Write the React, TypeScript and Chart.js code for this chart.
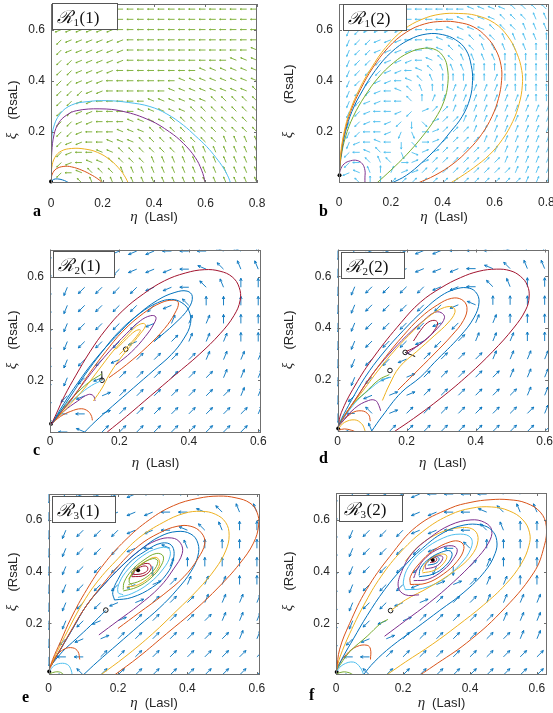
import React, { useEffect, useRef } from "react";
import { Chart, registerables } from "chart.js";
Chart.register(...registerables);

// MATLAB default palette
const BLUE = "#0072BD";
const ORANGE = "#D95319";
const YELLOW = "#EDB120";
const PURPLE = "#7E2F8E";
const GREEN = "#77AC30";
const CYAN = "#4DBEEE";
const DRED = "#A2142F";
const BLACK = "#000000";

// tick values
const xTicksWide = [0, 0.2, 0.4, 0.6, 0.8];
const xTicksNarrow = [0, 0.2, 0.4, 0.6];
const yTickVals = [0.2, 0.4, 0.6];

// quiver grids
const gridXWide = [0, 0.04, 0.08, 0.12, 0.16, 0.2, 0.24, 0.28, 0.32, 0.36, 0.4, 0.44, 0.48, 0.52, 0.56, 0.6, 0.64, 0.68, 0.72, 0.76, 0.8];
const gridYWide = [0.68, 0.64, 0.6, 0.56, 0.52, 0.48, 0.44, 0.4, 0.36, 0.32, 0.28, 0.24, 0.2, 0.16, 0.12, 0.08, 0.04, 0];
const gridXNarrow = [0, 0.05, 0.1, 0.15, 0.2, 0.25, 0.3, 0.35, 0.4, 0.45, 0.5, 0.55, 0.6];
const gridYNarrow = [0.7, 0.63, 0.56, 0.49, 0.42, 0.35, 0.28, 0.21, 0.14, 0.07, 0];

// quiver directions (hex digit k -> k*22.5 degrees, 0 = right, 4 = up)
const aQuiver = [
  "999998888888888888888",
  "999999888888888888888",
  "A99999988888888888888",
  "AA9999998888888888888",
  "AA9999998888888888887",
  "AAA999998888888888777",
  "AAA999988888888777777",
  "BAA999888888877777777",
  "BAAA99888888777777776",
  "BAA998888877777766666",
  "BAA998888777776666666",
  "BAA998887777666666666",
  "BAA988877766666666666",
  "BA9988777666666665555",
  "BA9887766666655555555",
  "BA9877666655555555555",
  "BA8766655555555555555",
  "CB8655555555555555555",
];
const bQuiver = [
  "BAA999888888877776666",
  "BAA999888888777766655",
  "BBA999988887777666555",
  "BBAA99988877766655554",
  "BBAA99998776665555544",
  "CBAAA9998766555544444",
  "CBAAA9987655544444444",
  "CBAA99876544444344444",
  "CBAA98765443333334444",
  "CBA998864333333333344",
  "CBA9889A1223333333333",
  "CBA989ACE122333333333",
  "CBA889BD0122233333333",
  "CB9878CE0122223333333",
  "CA8768DF1122222333333",
  "CA8656011222222233333",
  "C97543112222222223333",
  "C86442222222222222333",
];
const cQuiver = [
  "CA99999888776",
  "CBAAA99987655",
  "CBAAAA9986544",
  "CBAAAAA964444",
  "CBAAAA9333444",
  "CBAAA92233344",
  "CBAA922223333",
  "CBA9222222333",
  "CA91222222233",
  "C881222222223",
  "C872222222222",
];
const dQuiver = [
  "CA99999888766",
  "CBAA999987655",
  "CBAAAA9986544",
  "CBAAAAA974444",
  "CBAAAA9A33444",
  "CBAAA9A233344",
  "CBAA922223333",
  "CBA9122222333",
  "CA91122222233",
  "C861222222223",
  "C852222222222",
];
const eQuiver = [
  "CA99998888776",
  "CBAA999887655",
  "CBAAA99876544",
  "CBAAA98754444",
  "CBAAABC344444",
  "CBAAA91233344",
  "CBAA912223333",
  "CBA9122222333",
  "CA91222222233",
  "C882222222222",
  "C862222222222",
];
const fQuiver = [
  "CA99998888776",
  "CBAA999887655",
  "CBAAA99886544",
  "CBAAAA9864444",
  "CBAAAABC23444",
  "CBAAA91123344",
  "CBAA912223333",
  "CBA9122222333",
  "CA91222222233",
  "C882222222222",
  "C862222222222",
];

type Pt = [number, number];

// ---------- panel a : R1(1) ----------
const aBlue: Pt[] = [[0, 0.005], [0.01, 0.014], [0.025, 0.016], [0.045, 0.012], [0.06, 0.006], [0.07, 0]];
const aOrange: Pt[] = [[0, 0.01], [0.005, 0.035], [0.02, 0.055], [0.05, 0.065], [0.08, 0.063], [0.12, 0.05], [0.16, 0.03], [0.19, 0.01], [0.2, 0]];
const aYellow: Pt[] = [[0, 0.01], [0.003, 0.06], [0.015, 0.1], [0.04, 0.125], [0.08, 0.135], [0.13, 0.133], [0.18, 0.12], [0.23, 0.09], [0.27, 0.05], [0.29, 0.02], [0.3, 0]];
const aPurple: Pt[] = [[0, 0.02], [0.003, 0.12], [0.012, 0.19], [0.03, 0.235], [0.06, 0.265], [0.1, 0.283], [0.19, 0.29], [0.28, 0.28], [0.384, 0.245], [0.46, 0.2], [0.514, 0.155], [0.56, 0.1], [0.585, 0.05], [0.6, 0]];
const aCyan: Pt[] = [[0, 0.02], [0.002, 0.14], [0.008, 0.21], [0.035, 0.27], [0.08, 0.305], [0.14, 0.318], [0.216, 0.322], [0.3, 0.315], [0.384, 0.299], [0.45, 0.27], [0.514, 0.226], [0.56, 0.185], [0.605, 0.142], [0.64, 0.1], [0.67, 0.058], [0.69, 0.02], [0.697, 0]];
const aDots: Pt[] = [[0, 0.006]];

// ---------- panel b : R1(2) ----------
const bPurple: Pt[] = [[0, 0.02], [0.005, 0.05], [0.02, 0.075], [0.045, 0.087], [0.07, 0.088], [0.09, 0.075], [0.1, 0.05], [0.1, 0.02], [0.1, 0]];
const bGreen: Pt[] = [[0, 0.02], [0.008, 0.1], [0.025, 0.18], [0.055, 0.26], [0.1, 0.34], [0.15, 0.41], [0.21, 0.47], [0.27, 0.51], [0.33, 0.527], [0.375, 0.52], [0.405, 0.49], [0.418, 0.45], [0.42, 0.39], [0.405, 0.32], [0.37, 0.25], [0.32, 0.18], [0.26, 0.11], [0.2, 0.05], [0.146, 0]];
const bBlue: Pt[] = [[0, 0.02], [0.008, 0.11], [0.025, 0.2], [0.05, 0.28], [0.09, 0.36], [0.14, 0.44], [0.2, 0.51], [0.27, 0.56], [0.34, 0.583], [0.4, 0.58], [0.45, 0.56], [0.49, 0.52], [0.51, 0.46], [0.515, 0.4], [0.505, 0.33], [0.475, 0.26], [0.43, 0.2], [0.38, 0.14], [0.32, 0.08], [0.26, 0.03], [0.204, 0]];
const bOrange: Pt[] = [[0, 0.02], [0.007, 0.11], [0.022, 0.2], [0.045, 0.28], [0.085, 0.37], [0.13, 0.45], [0.19, 0.53], [0.26, 0.59], [0.33, 0.622], [0.4, 0.632], [0.46, 0.628], [0.52, 0.61], [0.57, 0.57], [0.605, 0.52], [0.625, 0.46], [0.627, 0.4], [0.615, 0.33], [0.59, 0.26], [0.55, 0.19], [0.5, 0.13], [0.44, 0.075], [0.37, 0.03], [0.305, 0]];
const bYellow: Pt[] = [[0, 0.02], [0.006, 0.11], [0.02, 0.2], [0.042, 0.28], [0.08, 0.37], [0.125, 0.45], [0.18, 0.53], [0.25, 0.6], [0.32, 0.64], [0.39, 0.66], [0.46, 0.663], [0.53, 0.655], [0.6, 0.625], [0.65, 0.575], [0.685, 0.51], [0.705, 0.44], [0.707, 0.38], [0.695, 0.31], [0.67, 0.24], [0.63, 0.17], [0.58, 0.11], [0.52, 0.06], [0.47, 0.025], [0.43, 0]];
const bDots: Pt[] = [[0.002, 0.03]];

// ---------- panel c : R2(1) ----------
const cRed: Pt[] = [[0.165, 0], [0.22, 0.06], [0.29, 0.14], [0.36, 0.22], [0.43, 0.3], [0.49, 0.38], [0.53, 0.45], [0.548, 0.51], [0.545, 0.56], [0.525, 0.6], [0.49, 0.622], [0.445, 0.628], [0.39, 0.615], [0.33, 0.585], [0.27, 0.535], [0.21, 0.47], [0.16, 0.395], [0.115, 0.31], [0.075, 0.22], [0.042, 0.14], [0.018, 0.07], [0.004, 0.03]];
const cBlue1: Pt[] = [[0.1, 0], [0.13, 0.04], [0.18, 0.1], [0.24, 0.17], [0.3, 0.24], [0.35, 0.3], [0.385, 0.36], [0.405, 0.42], [0.4, 0.47], [0.38, 0.5], [0.35, 0.513], [0.31, 0.5], [0.26, 0.46], [0.2, 0.39], [0.15, 0.31], [0.1, 0.22], [0.06, 0.14], [0.03, 0.08], [0.004, 0.03]];
const cBlue2: Pt[] = [[0.3, 0.35], [0.36, 0.42], [0.4, 0.48], [0.41, 0.525], [0.395, 0.545], [0.36, 0.54], [0.31, 0.51], [0.25, 0.45], [0.19, 0.37], [0.13, 0.28], [0.08, 0.19], [0.04, 0.11], [0.004, 0.03]];
const cOrange1: Pt[] = [[0.17, 0.21], [0.22, 0.26], [0.28, 0.33], [0.33, 0.4], [0.36, 0.46], [0.37, 0.5], [0.355, 0.51], [0.32, 0.5], [0.27, 0.46], [0.21, 0.39], [0.16, 0.31], [0.11, 0.22], [0.07, 0.14], [0.035, 0.08], [0.004, 0.03]];
const cPurple1: Pt[] = [[0.19, 0.26], [0.235, 0.31], [0.275, 0.37], [0.3, 0.42], [0.305, 0.445], [0.29, 0.45], [0.26, 0.43], [0.22, 0.38], [0.17, 0.31], [0.12, 0.23], [0.08, 0.16], [0.04, 0.09], [0.004, 0.03]];
const cYellow1: Pt[] = [[0.125, 0.12], [0.15, 0.17], [0.17, 0.22], [0.2, 0.28], [0.23, 0.33], [0.26, 0.38], [0.275, 0.41], [0.27, 0.42], [0.25, 0.41], [0.22, 0.37], [0.18, 0.31], [0.14, 0.24], [0.1, 0.17], [0.06, 0.11], [0.025, 0.06], [0.004, 0.03]];
const cYellow2: Pt[] = [[0.2, 0.3], [0.23, 0.34], [0.255, 0.38], [0.26, 0.395], [0.245, 0.39], [0.22, 0.36], [0.19, 0.32]];
const cGreen: Pt[] = [[0.004, 0.03], [0.03, 0.08], [0.07, 0.14], [0.11, 0.19], [0.15, 0.225]];
const cCyan: Pt[] = [[0.004, 0.03], [0.04, 0.09], [0.08, 0.14], [0.12, 0.18], [0.15, 0.2]];
const cPurple2: Pt[] = [[0.004, 0.03], [0.04, 0.08], [0.08, 0.12], [0.11, 0.145], [0.125, 0.14], [0.13, 0.12]];
const cOrange2: Pt[] = [[0.004, 0.03], [0.03, 0.06], [0.06, 0.08], [0.09, 0.09], [0.11, 0.08], [0.12, 0.06], [0.122, 0.045]];
const cBlack: Pt[] = [[0.15, 0.2], [0.149, 0.235]];
const cDots: Pt[] = [[0.003, 0.032]];
const cCircles: Pt[] = [[0.218, 0.32], [0.15, 0.2]];

// ---------- panel d : R2(2) ----------
const dRed: Pt[] = [[0.165, 0], [0.22, 0.05], [0.3, 0.13], [0.38, 0.22], [0.45, 0.31], [0.51, 0.4], [0.545, 0.47], [0.555, 0.52], [0.55, 0.565], [0.53, 0.6], [0.5, 0.622], [0.46, 0.628], [0.41, 0.62], [0.356, 0.595], [0.3, 0.556], [0.24, 0.5], [0.184, 0.421], [0.107, 0.292], [0.05, 0.176], [0.011, 0.073], [0.002, 0.02]];
const dBlue: Pt[] = [[0.098, 0], [0.13, 0.06], [0.184, 0.15], [0.24, 0.21], [0.28, 0.266], [0.356, 0.37], [0.395, 0.44], [0.41, 0.5], [0.4, 0.54], [0.375, 0.556], [0.34, 0.55], [0.3, 0.525], [0.25, 0.47], [0.19, 0.39], [0.13, 0.3], [0.08, 0.21], [0.04, 0.12], [0.012, 0.05], [0.002, 0.02]];
const dOrange: Pt[] = [[0.175, 0.16], [0.22, 0.22], [0.28, 0.3], [0.33, 0.37], [0.365, 0.43], [0.375, 0.48], [0.36, 0.51], [0.33, 0.515], [0.29, 0.49], [0.24, 0.44], [0.19, 0.37], [0.14, 0.29], [0.09, 0.2], [0.05, 0.12], [0.015, 0.05], [0.002, 0.02]];
const dYellow: Pt[] = [[0.13, 0.12], [0.15, 0.18], [0.18, 0.25], [0.23, 0.31], [0.28, 0.37], [0.32, 0.42], [0.34, 0.46], [0.335, 0.48], [0.31, 0.48], [0.27, 0.45], [0.22, 0.39], [0.17, 0.32], [0.12, 0.24], [0.075, 0.16], [0.035, 0.09], [0.01, 0.04], [0.002, 0.02]];
const dPurple: Pt[] = [[0.2, 0.3], [0.25, 0.35], [0.29, 0.4], [0.31, 0.44], [0.3, 0.46], [0.28, 0.46], [0.25, 0.43], [0.2, 0.37], [0.15, 0.3], [0.1, 0.22], [0.06, 0.14], [0.025, 0.07], [0.002, 0.02]];
const dRed2: Pt[] = [[0.2, 0.31], [0.23, 0.33], [0.26, 0.36], [0.28, 0.39], [0.29, 0.42], [0.28, 0.43], [0.26, 0.42], [0.24, 0.39], [0.22, 0.35]];
const dGreen: Pt[] = [[0.002, 0.02], [0.04, 0.1], [0.08, 0.15], [0.12, 0.2], [0.15, 0.22]];
const dCyan: Pt[] = [[0.002, 0.02], [0.05, 0.11], [0.09, 0.16], [0.13, 0.2], [0.155, 0.21]];
const dPurple2: Pt[] = [[0.002, 0.02], [0.05, 0.09], [0.09, 0.12], [0.11, 0.12], [0.12, 0.1], [0.125, 0.08]];
const dOrange2: Pt[] = [[0.002, 0.02], [0.04, 0.07], [0.07, 0.08], [0.09, 0.065], [0.095, 0.04]];
const dYellow2: Pt[] = [[0.002, 0.01], [0.02, 0.035], [0.05, 0.045], [0.07, 0.03], [0.078, 0.01], [0.08, 0]];
const dOrange3: Pt[] = [[0.002, 0.005], [0.02, 0.01], [0.04, 0.005], [0.05, 0]];
const dBlack: Pt[] = [[0.196, 0.306], [0.225, 0.29]];
const dDots: Pt[] = [[0.002, 0.012]];
const dCircles: Pt[] = [[0.196, 0.306], [0.152, 0.236]];

// ---------- panel e : R3(1) ----------
const eOrange1: Pt[] = [[0.19, 0], [0.26, 0.07], [0.34, 0.16], [0.42, 0.25], [0.49, 0.34], [0.55, 0.43], [0.59, 0.51], [0.605, 0.58], [0.6, 0.63], [0.58, 0.665], [0.54, 0.685], [0.49, 0.692], [0.43, 0.683], [0.36, 0.655], [0.29, 0.6], [0.22, 0.52], [0.16, 0.43], [0.11, 0.33], [0.065, 0.22], [0.035, 0.13], [0.012, 0.06], [0.003, 0.02]];
const eYellow1: Pt[] = [[0.15, 0], [0.22, 0.07], [0.3, 0.16], [0.37, 0.25], [0.43, 0.33], [0.48, 0.41], [0.51, 0.48], [0.52, 0.54], [0.51, 0.59], [0.48, 0.622], [0.44, 0.633], [0.39, 0.625], [0.33, 0.59], [0.26, 0.53], [0.2, 0.45], [0.14, 0.36], [0.095, 0.27], [0.055, 0.17], [0.025, 0.09], [0.005, 0.03]];
const eOrange2: Pt[] = [[0.2, 0.18], [0.26, 0.24], [0.33, 0.31], [0.39, 0.38], [0.43, 0.45], [0.45, 0.51], [0.44, 0.55], [0.41, 0.575], [0.37, 0.575], [0.32, 0.55], [0.26, 0.5], [0.2, 0.42], [0.15, 0.34], [0.1, 0.25], [0.06, 0.16], [0.03, 0.09], [0.005, 0.03]];
const eBlue1: Pt[] = [[0.1, 0], [0.14, 0.05], [0.2, 0.12], [0.26, 0.19], [0.32, 0.26], [0.37, 0.33], [0.41, 0.4], [0.43, 0.46], [0.43, 0.51], [0.41, 0.545], [0.37, 0.555], [0.32, 0.535], [0.27, 0.49], [0.21, 0.42], [0.16, 0.35], [0.11, 0.27], [0.07, 0.18], [0.035, 0.1], [0.005, 0.03]];
const ePurple: Pt[] = [[0.145, 0.155], [0.2, 0.21], [0.26, 0.27], [0.32, 0.34], [0.36, 0.41], [0.385, 0.47], [0.38, 0.51], [0.355, 0.53], [0.31, 0.52], [0.26, 0.48], [0.21, 0.42], [0.16, 0.35], [0.11, 0.27], [0.07, 0.18], [0.035, 0.1], [0.005, 0.03]];
const eCyan: Pt[] = [[0.2, 0.3], [0.24, 0.315], [0.29, 0.355], [0.33, 0.41], [0.35, 0.46], [0.345, 0.49], [0.315, 0.49], [0.27, 0.46], [0.23, 0.41], [0.205, 0.36], [0.2, 0.32], [0.215, 0.31]];
const eBlue2: Pt[] = [[0.19, 0.29], [0.24, 0.3], [0.3, 0.34], [0.34, 0.39], [0.36, 0.45], [0.355, 0.5], [0.325, 0.51], [0.28, 0.48], [0.23, 0.43], [0.2, 0.37], [0.185, 0.32], [0.19, 0.29]];
const eGreen1: Pt[] = [[0.215, 0.325], [0.255, 0.34], [0.295, 0.375], [0.325, 0.425], [0.33, 0.46], [0.31, 0.47], [0.275, 0.445], [0.24, 0.405], [0.218, 0.36], [0.215, 0.33]];
const eGreen2: Pt[] = [[0.23, 0.35], [0.265, 0.365], [0.3, 0.4], [0.315, 0.44], [0.3, 0.45], [0.265, 0.425], [0.24, 0.39], [0.232, 0.36], [0.24, 0.35]];
const eYellow2: Pt[] = [[0.225, 0.34], [0.26, 0.35], [0.3, 0.39], [0.32, 0.43], [0.31, 0.455], [0.28, 0.44], [0.25, 0.41], [0.23, 0.37]];
const eRed1: Pt[] = [[0.24, 0.38], [0.275, 0.385], [0.295, 0.41], [0.29, 0.43], [0.265, 0.425], [0.243, 0.4], [0.24, 0.38]];
const eRed2: Pt[] = [[0.245, 0.388], [0.27, 0.392], [0.285, 0.405], [0.283, 0.42], [0.265, 0.418], [0.248, 0.402], [0.245, 0.388]];
const eOrange3: Pt[] = [[0.003, 0.03], [0.02, 0.07], [0.045, 0.1], [0.07, 0.105], [0.085, 0.09], [0.09, 0.06]];
const eCyan2: Pt[] = [[0.003, 0.015], [0.015, 0.035], [0.035, 0.045], [0.055, 0.04], [0.065, 0.02], [0.068, 0]];
const eGreen3: Pt[] = [[0.003, 0.005], [0.02, 0.012], [0.035, 0.01], [0.045, 0]];
const eBlue3: Pt[] = [[0.003, 0.03], [0.04, 0.09], [0.08, 0.14], [0.12, 0.19], [0.165, 0.25]];
const eDots: Pt[] = [[0.002, 0.014], [0.258, 0.405]];
const eCircles: Pt[] = [[0.165, 0.251]];

// ---------- panel f : R3(2) ----------
const fOrange1: Pt[] = [[0.251, 0], [0.29, 0.034], [0.39, 0.124], [0.49, 0.24], [0.59, 0.395], [0.622, 0.5], [0.628, 0.575], [0.61, 0.63], [0.568, 0.665], [0.517, 0.678], [0.46, 0.678], [0.403, 0.668], [0.341, 0.645], [0.241, 0.575], [0.161, 0.459], [0.091, 0.33], [0.041, 0.2], [0.011, 0.1], [0.002, 0.02]];
const fYellow1: Pt[] = [[0.151, 0], [0.207, 0.05], [0.289, 0.12], [0.362, 0.19], [0.44, 0.27], [0.506, 0.35], [0.553, 0.43], [0.576, 0.5], [0.578, 0.55], [0.558, 0.6], [0.517, 0.635], [0.465, 0.65], [0.403, 0.645], [0.341, 0.62], [0.269, 0.565], [0.196, 0.48], [0.134, 0.38], [0.083, 0.27], [0.041, 0.16], [0.012, 0.07], [0.002, 0.02]];
const fBlue1: Pt[] = [[0.081, 0], [0.114, 0.05], [0.165, 0.11], [0.238, 0.18], [0.31, 0.25], [0.382, 0.32], [0.444, 0.4], [0.475, 0.47], [0.48, 0.52], [0.465, 0.56], [0.434, 0.58], [0.382, 0.58], [0.32, 0.55], [0.258, 0.49], [0.196, 0.41], [0.145, 0.33], [0.093, 0.23], [0.052, 0.14], [0.021, 0.07], [0.002, 0.02]];
const fPurple1: Pt[] = [[0.145, 0.15], [0.207, 0.21], [0.279, 0.28], [0.351, 0.36], [0.413, 0.44], [0.455, 0.51], [0.465, 0.56], [0.444, 0.59], [0.403, 0.6], [0.341, 0.58], [0.279, 0.53], [0.227, 0.47], [0.196, 0.4], [0.186, 0.34], [0.207, 0.31], [0.248, 0.31]];
const fYellow3: Pt[] = [[0.165, 0.25], [0.207, 0.29], [0.279, 0.34], [0.351, 0.4], [0.403, 0.46], [0.424, 0.52], [0.413, 0.56], [0.372, 0.57], [0.31, 0.55], [0.248, 0.5], [0.207, 0.44]];
const fCyan: Pt[] = [[0.207, 0.33], [0.258, 0.335], [0.32, 0.37], [0.372, 0.43], [0.403, 0.49], [0.403, 0.53], [0.372, 0.545], [0.32, 0.53], [0.258, 0.48], [0.217, 0.42], [0.201, 0.36], [0.207, 0.33]];
const fOrange2: Pt[] = [[0.222, 0.35], [0.269, 0.355], [0.32, 0.39], [0.362, 0.44], [0.382, 0.49], [0.372, 0.515], [0.341, 0.515], [0.289, 0.48], [0.248, 0.43], [0.222, 0.38], [0.222, 0.35]];
const fPurple2: Pt[] = [[0.232, 0.365], [0.274, 0.37], [0.32, 0.405], [0.351, 0.45], [0.362, 0.485], [0.346, 0.5], [0.31, 0.49], [0.269, 0.455], [0.243, 0.41], [0.232, 0.375]];
const fBlue2: Pt[] = [[0.248, 0.38], [0.289, 0.39], [0.325, 0.42], [0.346, 0.46], [0.341, 0.48], [0.315, 0.475], [0.279, 0.45], [0.253, 0.415], [0.248, 0.385]];
const fYellow2: Pt[] = [[0.258, 0.395], [0.294, 0.405], [0.32, 0.43], [0.331, 0.46], [0.315, 0.468], [0.289, 0.455], [0.267, 0.43], [0.258, 0.4]];
const fPurple3: Pt[] = [[0.267, 0.41], [0.298, 0.42], [0.315, 0.44], [0.318, 0.458], [0.3, 0.46], [0.279, 0.447], [0.267, 0.425], [0.267, 0.412]];
const fBlue3: Pt[] = [[0.274, 0.425], [0.298, 0.432], [0.308, 0.448], [0.3, 0.458], [0.281, 0.45], [0.274, 0.435]];
const fRed: Pt[] = [[0.281, 0.435], [0.298, 0.44], [0.3, 0.452], [0.287, 0.453], [0.28, 0.443]];
const fGreen: Pt[] = [[0.002, 0.02], [0.041, 0.09], [0.093, 0.15], [0.134, 0.2], [0.155, 0.215]];
const fOrange3: Pt[] = [[0.002, 0.03], [0.031, 0.08], [0.062, 0.11], [0.093, 0.115], [0.103, 0.1], [0.103, 0.06]];
const fCyan2: Pt[] = [[0.002, 0.015], [0.021, 0.04], [0.052, 0.05], [0.072, 0.03], [0.083, 0]];
const fGreen2: Pt[] = [[0.002, 0.005], [0.021, 0.012], [0.041, 0.008], [0.052, 0]];
const fDots: Pt[] = [[0.002, 0.012], [0.289, 0.445]];
const fCircles: Pt[] = [[0.163, 0.249]];

type CurveRef = { pts: Pt[]; color: string };

interface PanelCfg {
  key: string;
  left: number; top: number; w: number; h: number;
  plot: { l: number; r: number; t: number; b: number };
  xmax: number; ymax: number;
  xTicks: number[]; xPad: number;
  gx: number[]; gy: number[]; quiver: string[];
  arrowColor: string; arrowLen: number; headRatio: number;
  curves: CurveRef[]; dots: Pt[]; circles: Pt[];
  box: { x: number; y: number; w: number; h: number };
  sub: string; arg: string;
  letter: { text: string; x: number; y: number };
  xTitleY: number;
  yTitle: { x: number; xiY: number; rsalY: number };
}

const panels: PanelCfg[] = [
  {
    key: "a", left: 0, top: 0, w: 276, h: 232,
    plot: { l: 51, r: 257, t: 2, b: 183 }, xmax: 0.8, ymax: 0.7,
    xTicks: xTicksWide, xPad: 13, gx: gridXWide, gy: gridYWide, quiver: aQuiver,
    arrowColor: GREEN, arrowLen: 6.5, headRatio: 0.22,
    curves: [
      { pts: aCyan, color: CYAN }, { pts: aPurple, color: PURPLE }, { pts: aYellow, color: YELLOW },
      { pts: aOrange, color: ORANGE }, { pts: aBlue, color: BLUE },
    ],
    dots: aDots, circles: [],
    box: { x: 52, y: 3, w: 66, h: 27 }, sub: "1", arg: "1",
    letter: { text: "a", x: 33, y: 216 }, xTitleY: 221,
    yTitle: { x: 17, xiY: 136, rsalY: 100 },
  },
  {
    key: "b", left: 276, top: 0, w: 277, h: 232,
    plot: { l: 63, r: 275, t: 2, b: 183 }, xmax: 0.81, ymax: 0.7,
    xTicks: xTicksWide, xPad: 12, gx: gridXWide, gy: gridYWide, quiver: bQuiver,
    arrowColor: CYAN, arrowLen: 7, headRatio: 0.25,
    curves: [
      { pts: bYellow, color: YELLOW }, { pts: bOrange, color: ORANGE }, { pts: bBlue, color: BLUE },
      { pts: bGreen, color: GREEN }, { pts: bPurple, color: PURPLE },
    ],
    dots: bDots, circles: [],
    box: { x: 67, y: 4, w: 64, h: 27 }, sub: "1", arg: "2",
    letter: { text: "b", x: 43, y: 216 }, xTitleY: 221,
    yTitle: { x: 17, xiY: 135, rsalY: 84 },
  },
  {
    key: "c", left: 0, top: 232, w: 276, h: 240,
    plot: { l: 50, r: 261, t: 17.5, b: 200 }, xmax: 0.608, ymax: 0.706,
    xTicks: xTicksNarrow, xPad: 2.5, gx: gridXNarrow, gy: gridYNarrow, quiver: cQuiver,
    arrowColor: BLUE, arrowLen: 9, headRatio: 0.33,
    curves: [
      { pts: cRed, color: DRED }, { pts: cBlue1, color: BLUE }, { pts: cBlue2, color: BLUE },
      { pts: cOrange1, color: ORANGE }, { pts: cPurple1, color: PURPLE }, { pts: cYellow1, color: YELLOW },
      { pts: cYellow2, color: YELLOW }, { pts: cGreen, color: GREEN }, { pts: cCyan, color: CYAN },
      { pts: cPurple2, color: PURPLE }, { pts: cOrange2, color: ORANGE }, { pts: cBlack, color: BLACK },
    ],
    dots: cDots, circles: cCircles,
    box: { x: 53, y: 19, w: 62, h: 27 }, sub: "2", arg: "1",
    letter: { text: "c", x: 33, y: 223 }, xTitleY: 235,
    yTitle: { x: 17, xiY: 134, rsalY: 98 },
  },
  {
    key: "d", left: 276, top: 232, w: 277, h: 240,
    plot: { l: 61.5, r: 274, t: 17.5, b: 199.5 }, xmax: 0.61, ymax: 0.704,
    xTicks: xTicksNarrow, xPad: 2.5, gx: gridXNarrow, gy: gridYNarrow, quiver: dQuiver,
    arrowColor: BLUE, arrowLen: 9, headRatio: 0.33,
    curves: [
      { pts: dRed, color: DRED }, { pts: dBlue, color: BLUE }, { pts: dOrange, color: ORANGE },
      { pts: dYellow, color: YELLOW }, { pts: dPurple, color: PURPLE }, { pts: dRed2, color: DRED },
      { pts: dGreen, color: GREEN }, { pts: dCyan, color: CYAN }, { pts: dPurple2, color: PURPLE },
      { pts: dOrange2, color: ORANGE }, { pts: dYellow2, color: YELLOW }, { pts: dOrange3, color: ORANGE },
      { pts: dBlack, color: BLACK },
    ],
    dots: dDots, circles: dCircles,
    box: { x: 65, y: 20, w: 64, h: 27 }, sub: "2", arg: "2",
    letter: { text: "d", x: 43, y: 231 }, xTitleY: 235,
    yTitle: { x: 17, xiY: 134, rsalY: 98 },
  },
  {
    key: "e", left: 0, top: 472, w: 276, h: 241,
    plot: { l: 48.5, r: 259.7, t: 22, b: 203 }, xmax: 0.608, ymax: 0.7,
    xTicks: xTicksNarrow, xPad: 6, gx: gridXNarrow, gy: gridYNarrow, quiver: eQuiver,
    arrowColor: BLUE, arrowLen: 9, headRatio: 0.33,
    curves: [
      { pts: eOrange1, color: ORANGE }, { pts: eYellow1, color: YELLOW }, { pts: eOrange2, color: ORANGE },
      { pts: eBlue1, color: BLUE }, { pts: ePurple, color: PURPLE }, { pts: eCyan, color: CYAN },
      { pts: eBlue2, color: BLUE }, { pts: eGreen1, color: GREEN }, { pts: eGreen2, color: GREEN },
      { pts: eYellow2, color: YELLOW }, { pts: eRed1, color: DRED }, { pts: eRed2, color: DRED },
      { pts: eOrange3, color: ORANGE }, { pts: eCyan2, color: CYAN }, { pts: eGreen3, color: GREEN },
      { pts: eBlue3, color: BLUE },
    ],
    dots: eDots, circles: eCircles,
    box: { x: 52, y: 24, w: 64, h: 27 }, sub: "3", arg: "1",
    letter: { text: "e", x: 22, y: 230 }, xTitleY: 235,
    yTitle: { x: 17, xiY: 136, rsalY: 100 },
  },
  {
    key: "f", left: 276, top: 472, w: 277, h: 241,
    plot: { l: 60, r: 271, t: 21, b: 203 }, xmax: 0.63, ymax: 0.704,
    xTicks: xTicksNarrow, xPad: 6.5, gx: gridXNarrow, gy: gridYNarrow, quiver: fQuiver,
    arrowColor: BLUE, arrowLen: 9, headRatio: 0.33,
    curves: [
      { pts: fOrange1, color: ORANGE }, { pts: fYellow1, color: YELLOW }, { pts: fBlue1, color: BLUE },
      { pts: fPurple1, color: PURPLE }, { pts: fYellow3, color: YELLOW }, { pts: fCyan, color: CYAN },
      { pts: fOrange2, color: ORANGE }, { pts: fPurple2, color: PURPLE }, { pts: fBlue2, color: BLUE },
      { pts: fYellow2, color: YELLOW }, { pts: fPurple3, color: PURPLE }, { pts: fBlue3, color: BLUE },
      { pts: fRed, color: DRED }, { pts: fGreen, color: GREEN }, { pts: fOrange3, color: ORANGE },
      { pts: fCyan2, color: CYAN }, { pts: fGreen2, color: GREEN },
    ],
    dots: fDots, circles: fCircles,
    box: { x: 63, y: 23, w: 64, h: 27 }, sub: "3", arg: "2",
    letter: { text: "f", x: 33, y: 228 }, xTitleY: 235,
    yTitle: { x: 17, xiY: 136, rsalY: 99 },
  },
];

const fmt = (v: number) => (v === 0 ? "0" : String(Math.round(v * 10) / 10));
const FRAME = "#6f6f6f";

function makePlugin(p: PanelCfg) {
  return {
    id: "deco_" + p.key,
    beforeDatasetsDraw(chart: any) {
      const { ctx, chartArea: ca, scales } = chart;
      const xs = scales.x, ys = scales.y;
      ctx.save();
      ctx.beginPath();
      ctx.rect(ca.left, ca.top, ca.right - ca.left, ca.bottom - ca.top);
      ctx.clip();
      ctx.strokeStyle = p.arrowColor;
      ctx.lineWidth = 0.9;
      p.quiver.forEach((row, j) => {
        for (let i = 0; i < row.length; i++) {
          const ch = row[i];
          if (ch === ".") continue;
          const th = (parseInt(ch, 16) * Math.PI) / 8;
          const px = xs.getPixelForValue(p.gx[i]);
          const py = ys.getPixelForValue(p.gy[j]);
          const L = p.arrowLen;
          const ex = px + L * Math.cos(th);
          const ey = py - L * Math.sin(th);
          ctx.beginPath();
          ctx.moveTo(px, py);
          ctx.lineTo(ex, ey);
          const hl = L * p.headRatio;
          for (const s of [-1, 1]) {
            const a = th + Math.PI + s * 0.45;
            ctx.moveTo(ex, ey);
            ctx.lineTo(ex + hl * Math.cos(a), ey - hl * Math.sin(a));
          }
          ctx.stroke();
        }
      });
      ctx.restore();
    },
    afterDatasetsDraw(chart: any) {
      const { ctx, chartArea: ca, scales } = chart;
      const xs = scales.x, ys = scales.y;
      ctx.save();
      ctx.strokeStyle = FRAME;
      ctx.lineWidth = 1;
      ctx.strokeRect(Math.round(ca.left) + 0.5, Math.round(ca.top) + 0.5, Math.round(ca.right - ca.left) - 1, Math.round(ca.bottom - ca.top) - 1);
      ctx.beginPath();
      p.xTicks.forEach((v) => {
        const x = Math.round(xs.getPixelForValue(v)) + 0.5;
        ctx.moveTo(x, ca.bottom); ctx.lineTo(x, ca.bottom - 3);
        ctx.moveTo(x, ca.top); ctx.lineTo(x, ca.top + 3);
      });
      yTickVals.forEach((v) => {
        const y = Math.round(ys.getPixelForValue(v)) + 0.5;
        ctx.moveTo(ca.left, y); ctx.lineTo(ca.left + 3, y);
        ctx.moveTo(ca.right, y); ctx.lineTo(ca.right - 3, y);
      });
      ctx.stroke();
      const b = p.box;
      ctx.fillStyle = "#ffffff";
      ctx.fillRect(b.x, b.y, b.w, b.h);
      ctx.strokeStyle = "#555555";
      ctx.strokeRect(b.x + 0.5, b.y + 0.5, b.w - 1, b.h - 1);
      ctx.fillStyle = "#111111";
      ctx.textAlign = "left";
      ctx.textBaseline = "alphabetic";
      const base = b.y + b.h - 7;
      let cx = b.x + 5;
      ctx.font = "italic 18px 'DejaVu Serif'";
      ctx.fillText("\u211B", cx, base);
      cx += ctx.measureText("\u211B").width + 0.5;
      ctx.font = "11px 'Liberation Serif'";
      ctx.fillText(p.sub, cx, base + 3);
      cx += ctx.measureText(p.sub).width + 0.5;
      ctx.font = "17px 'Liberation Serif'";
      ctx.fillText("(" + p.arg + ")", cx, base);
      ctx.restore();
    },
    afterDraw(chart: any) {
      const { ctx, chartArea: ca } = chart;
      ctx.save();
      ctx.fillStyle = "#262626";
      ctx.textBaseline = "alphabetic";
      ctx.font = "italic 15px 'Liberation Serif'";
      const w1 = ctx.measureText("\u03B7").width;
      ctx.font = "13px 'Liberation Sans'";
      const w2 = ctx.measureText("(LasI)").width;
      const gap = 7;
      const cxm = (ca.left + ca.right) / 2;
      const sx = cxm - (w1 + gap + w2) / 2;
      ctx.textAlign = "left";
      ctx.font = "italic 15px 'Liberation Serif'";
      ctx.fillText("\u03B7", sx, p.xTitleY);
      ctx.font = "13px 'Liberation Sans'";
      ctx.fillText("(LasI)", sx + w1 + gap, p.xTitleY);
      ctx.save();
      ctx.translate(p.yTitle.x, 0);
      ctx.rotate(-Math.PI / 2);
      ctx.textAlign = "center";
      ctx.font = "italic 15px 'Liberation Serif'";
      ctx.fillText("\u03BE", -p.yTitle.xiY, -1);
      ctx.font = "13px 'Liberation Sans'";
      ctx.fillText("(RsaL)", -p.yTitle.rsalY, 0);
      ctx.restore();
      ctx.fillStyle = "#000000";
      ctx.textAlign = "left";
      ctx.font = "bold 16px 'Liberation Serif'";
      ctx.fillText(p.letter.text, p.letter.x, p.letter.y);
      ctx.restore();
    },
  };
}

function Panel({ cfg }: { cfg: PanelCfg }) {
  const ref = useRef<HTMLCanvasElement | null>(null);
  useEffect(() => {
    const canvas = ref.current;
    if (!canvas) return;
    const datasets: any[] = cfg.curves.map((c) => ({
      data: c.pts.map(([x, y]) => ({ x, y })),
      showLine: true,
      borderColor: c.color,
      backgroundColor: c.color,
      borderWidth: 1,
      pointRadius: 0,
      tension: 0.4,
      fill: false,
    }));
    datasets.push({
      data: cfg.circles.map(([x, y]) => ({ x, y })),
      showLine: false,
      pointRadius: 2.3,
      pointBackgroundColor: "#ffffff",
      pointBorderColor: "#000000",
      pointBorderWidth: 0.9,
      clip: false,
    });
    datasets.push({
      data: cfg.dots.map(([x, y]) => ({ x, y })),
      showLine: false,
      pointRadius: 2,
      pointBackgroundColor: "#000000",
      pointBorderColor: "#000000",
      pointBorderWidth: 0,
      clip: false,
    });
    const tickFont = { family: "'Liberation Sans', Arial, sans-serif", size: 12 };
    const chart = new Chart(canvas, {
      type: "scatter",
      data: { datasets },
      plugins: [makePlugin(cfg)],
      options: {
        animation: false,
        responsive: false,
        maintainAspectRatio: false,
        events: [],
        layout: { padding: { left: 0, bottom: 0, top: cfg.plot.t, right: cfg.w - cfg.plot.r } },
        plugins: { legend: { display: false }, tooltip: { enabled: false } },
        scales: {
          x: {
            type: "linear",
            min: 0,
            max: cfg.xmax,
            grid: { display: false, drawTicks: false },
            border: { display: false },
            ticks: { font: tickFont, color: "#262626", padding: cfg.xPad, autoSkip: false, maxRotation: 0, callback: (v: any) => fmt(Number(v)) },
            afterBuildTicks: (axis: any) => { axis.ticks = cfg.xTicks.map((v) => ({ value: v })); },
            afterFit: (axis: any) => {
              axis.height = cfg.h - cfg.plot.b;
              axis.paddingLeft = 0; axis.paddingRight = 0;
            },
          },
          y: {
            type: "linear",
            min: 0,
            max: cfg.ymax,
            grid: { display: false, drawTicks: false },
            border: { display: false },
            ticks: { font: tickFont, color: "#262626", padding: 6, autoSkip: false, callback: (v: any) => fmt(Number(v)) },
            afterBuildTicks: (axis: any) => { axis.ticks = yTickVals.map((v) => ({ value: v })); },
            afterFit: (axis: any) => {
              axis.width = cfg.plot.l;
              axis.paddingTop = 0; axis.paddingBottom = 0;
            },
          },
        },
      } as any,
    });
    return () => chart.destroy();
  }, [cfg]);
  return (
    <canvas
      ref={ref}
      width={cfg.w}
      height={cfg.h}
      style={{ position: "absolute", left: cfg.left, top: cfg.top, width: cfg.w, height: cfg.h }}
    />
  );
}

export default function App() {
  return (
    <div style={{ position: "absolute", left: 0, top: 0, width: 553, height: 713, background: "#ffffff", overflow: "hidden" }}>
      {panels.map((p) => (
        <Panel key={p.key} cfg={p} />
      ))}
    </div>
  );
}
